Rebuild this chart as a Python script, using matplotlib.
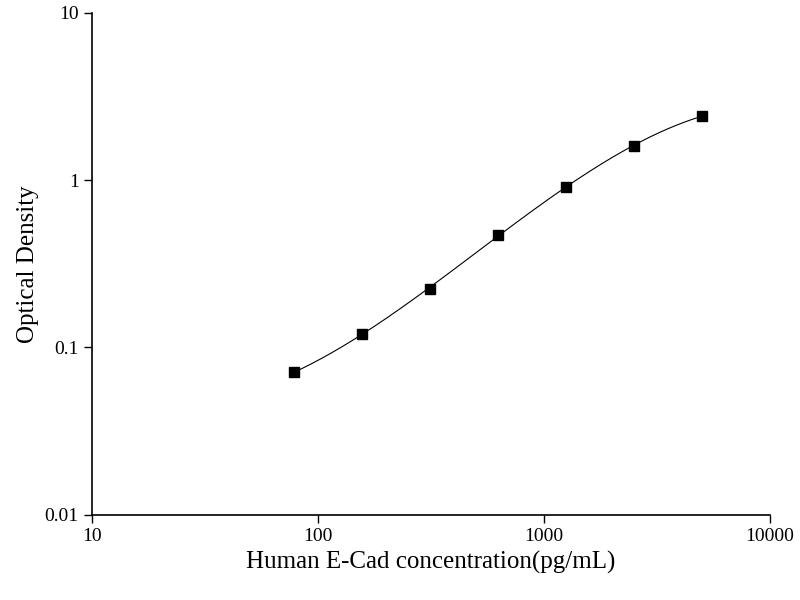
import numpy as np
import matplotlib.pyplot as plt

plt.rcParams['font.family'] = ['Liberation Serif', 'DejaVu Serif']

# Standard curve data
concentracion = [78.125, 156.25, 312.5, 625, 1250, 2500, 5000]
densidad = [0.071, 0.12, 0.225, 0.47, 0.91, 1.6, 2.42]

fig = plt.figure(figsize=(8, 6), dpi=100)
ax = fig.add_axes([0.115, 0.142, 0.8475, 0.8367])

# Smooth fit line in log-log space
lx = np.log10(concentracion)
ly = np.log10(densidad)
coef = np.polyfit(lx, ly, 3)
xs = np.linspace(lx[0], lx[-1], 200)
ax.plot(10**xs, 10**np.polyval(coef, xs), color='black', linewidth=0.8)
ax.plot(concentracion, densidad, 's', color='black', markersize=7)

ax.set_xscale('log')
ax.set_yscale('log')
ax.set_xlim(10, 10000)
ax.set_ylim(0.01, 10)
ax.set_xticks([10, 100, 1000, 10000])
ax.set_xticklabels(['10', '100', '1000', '10000'])
ax.set_yticks([0.01, 0.1, 1, 10])
ax.set_yticklabels(['0.01', '0.1', '1', '10'])
ax.minorticks_off()
ax.tick_params(direction='out', length=6, width=1, labelsize=14)
for lado in ['top', 'right']:
    ax.spines[lado].set_visible(False)
for lado in ['left', 'bottom']:
    ax.spines[lado].set_linewidth(1.2)

ax.set_xlabel('Human E-Cad concentration(pg/mL)', fontsize=18)
ax.set_ylabel('Optical Density', fontsize=18)

plt.savefig('out.png', dpi=100)
